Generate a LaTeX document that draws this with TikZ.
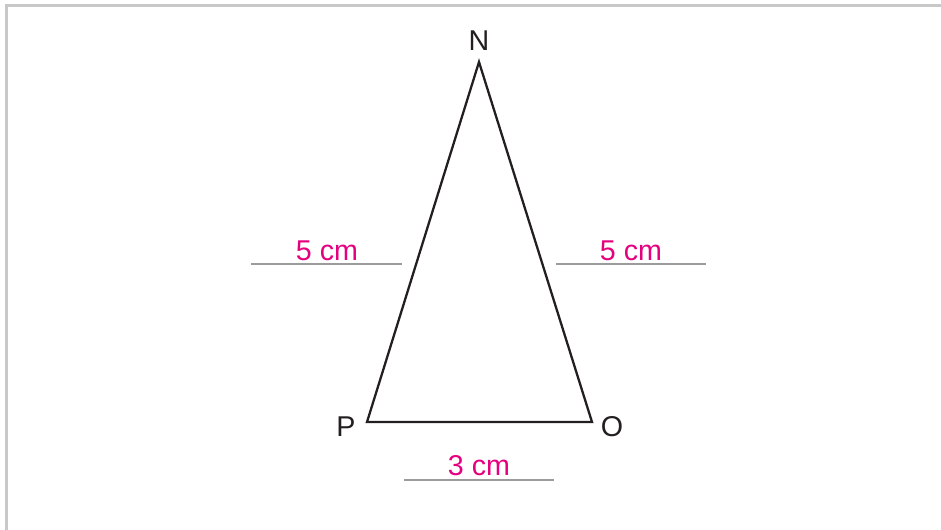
\documentclass[tikz,border=0pt]{standalone}
\usepackage{fontspec}
\setmainfont{Liberation Sans}
\usetikzlibrary{positioning}

\definecolor{labelpink}{HTML}{E5007E}
\definecolor{rulegray}{HTML}{9B9B9B}
\definecolor{framegray}{HTML}{C8C8C8}
\definecolor{edgeblack}{HTML}{231F20}

\tikzset{
  side/.style={line width=1.3pt, draw=edgeblack, line join=miter},
  vertexlabel/.style={font=\fontsize{16.3}{19}\selectfont, text=edgeblack, inner sep=0pt},
  lenlabel/.style={font=\fontsize{16.3}{19}\selectfont, text=labelpink, inner sep=0pt},
  lenrule/.style={draw=rulegray, line width=0.6pt}
}

\begin{document}
\begin{tikzpicture}[x=0.02cm, y=-0.02cm]

    % --- 画布与边框 ---
    \useasboundingbox (0, 0) rectangle (941, 530);
    \coordinate (FrameL) at (6.5, 530);
    \coordinate (FrameC) at (6.5, 5.5);
    \coordinate (FrameR) at (941, 5.5);
    \draw[framegray, line width=1.2pt] (FrameL) -- (FrameC) -- (FrameR);

    % --- 定义三角形顶点 ---
    \coordinate (N) at (479, 62);
    \coordinate (P) at (367, 422);
    \coordinate (O) at (592, 422);

    % --- 绘制三角形 ---
    \draw[side] (N) -- (O) -- (P) -- cycle;

    % --- 顶点标签 ---
    \node[vertexlabel] (N_lbl) at (479, 41) {N};
    \node[vertexlabel] (P_lbl) at (346, 427) {P};
    \node[vertexlabel] (O_lbl) at (612, 427) {O};

    % --- 边长标注 ---
    \node[lenlabel] (NP_len) at (327, 251) {5 cm};
    \node[lenlabel] (NO_len) at (631, 251) {5 cm};
    \node[lenlabel] (PO_len) at (479, 466) {3 cm};

    % 标注下方的横线
    \coordinate (NP_a) at (251, 264);
    \coordinate (NP_b) at (402, 264);
    \coordinate (NO_a) at (556, 264);
    \coordinate (NO_b) at (706, 264);
    \coordinate (PO_a) at (404, 480);
    \coordinate (PO_b) at (554, 480);
    \draw[lenrule] (NP_a) -- (NP_b);
    \draw[lenrule] (NO_a) -- (NO_b);
    \draw[lenrule] (PO_a) -- (PO_b);

\end{tikzpicture}
\end{document}
